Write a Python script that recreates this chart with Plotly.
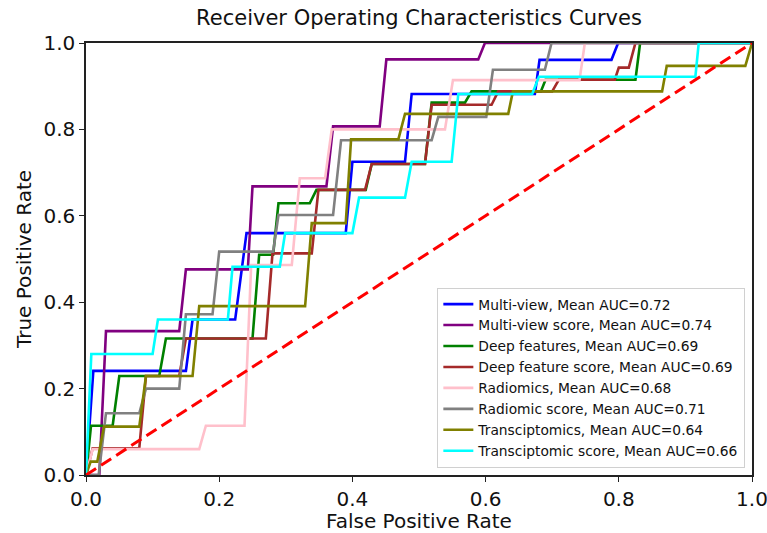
import plotly.graph_objects as go

# ---- data ----
labels = [
    "Multi-view, Mean AUC=0.72",
    "Multi-view score, Mean AUC=0.74",
    "Deep features, Mean AUC=0.69",
    "Deep feature score, Mean AUC=0.69",
    "Radiomics, Mean AUC=0.68",
    "Radiomic score, Mean AUC=0.71",
    "Transciptomics, Mean AUC=0.64",
    "Transciptomic score, Mean AUC=0.66",
]
colors = ["#0000ff", "#800080", "#008000", "#a52a2a", "#ffc0cb", "#808080", "#808000", "#00ffff"]

mv_fpr = [0, 0.011, 0.15, 0.16, 0.224, 0.241, 0.39, 0.40, 0.479, 0.489, 0.674, 0.681, 0.789, 0.799, 1.0]
mv_tpr = [0, 0.241, 0.241, 0.36, 0.36, 0.56, 0.56, 0.725, 0.725, 0.882, 0.882, 0.961, 0.961, 1.0, 1.0]

mvs_fpr = [0, 0.02, 0.03, 0.14, 0.15, 0.243, 0.25, 0.361, 0.371, 0.441, 0.451, 0.589, 0.599, 1.0]
mvs_tpr = [0, 0, 0.333, 0.333, 0.476, 0.476, 0.668, 0.668, 0.807, 0.807, 0.962, 0.962, 1.0, 1.0]

df_fpr = [0, 0.0075, 0.04, 0.05, 0.11, 0.12, 0.25, 0.26, 0.281, 0.289, 0.336, 0.346, 0.42, 0.429,
          0.509, 0.519, 0.569, 0.579, 0.683, 0.69, 0.825, 0.832, 1.0]
df_tpr = [0, 0.114, 0.114, 0.229, 0.229, 0.316, 0.316, 0.51, 0.51, 0.629, 0.629, 0.66, 0.66, 0.72,
          0.72, 0.862, 0.862, 0.888, 0.888, 0.915, 0.915, 1.0, 1.0]

dfs_fpr = [0, 0.01, 0.08, 0.09, 0.14, 0.15, 0.27, 0.28, 0.339, 0.349, 0.419, 0.429, 0.509, 0.519,
           0.609, 0.619, 0.70, 0.71, 0.794, 0.80, 0.815, 0.825, 1.0]
dfs_tpr = [0, 0.062, 0.062, 0.229, 0.229, 0.316, 0.316, 0.513, 0.513, 0.66, 0.66, 0.72, 0.72, 0.857,
           0.857, 0.888, 0.888, 0.915, 0.915, 0.943, 0.943, 1.0, 1.0]

rad_fpr = [0, 0.01, 0.17, 0.18, 0.238, 0.248, 0.309, 0.321, 0.359, 0.369, 0.539, 0.551, 0.741, 0.749, 1.0]
rad_tpr = [0, 0.06, 0.06, 0.114, 0.114, 0.486, 0.486, 0.687, 0.687, 0.80, 0.80, 0.914, 0.914, 1.0, 1.0]

rads_fpr = [0, 0.019, 0.03, 0.08, 0.09, 0.14, 0.15, 0.19, 0.20, 0.281, 0.289, 0.371, 0.383, 0.519,
            0.529, 0.601, 0.611, 0.689, 0.699, 1.0]
rads_tpr = [0, 0, 0.143, 0.143, 0.2, 0.2, 0.372, 0.372, 0.517, 0.517, 0.602, 0.602, 0.775, 0.775,
            0.829, 0.829, 0.938, 0.938, 1.0, 1.0]

tr_fpr = [0, 0.007, 0.017, 0.027, 0.08, 0.09, 0.16, 0.17, 0.329, 0.339, 0.39, 0.398, 0.469, 0.479,
          0.634, 0.641, 0.865, 0.872, 0.99, 1.0]
tr_tpr = [0, 0.031, 0.031, 0.112, 0.112, 0.229, 0.229, 0.391, 0.391, 0.583, 0.583, 0.777, 0.777, 0.836,
          0.836, 0.888, 0.888, 0.947, 0.947, 1.0]

trs_fpr = [0, 0.008, 0.10, 0.108, 0.213, 0.22, 0.291, 0.299, 0.40, 0.41, 0.479, 0.489, 0.549, 0.559,
           0.67, 0.68, 0.915, 0.92, 1.0]
trs_tpr = [0, 0.28, 0.28, 0.36, 0.36, 0.482, 0.482, 0.56, 0.56, 0.642, 0.642, 0.725, 0.725, 0.882,
           0.882, 0.922, 0.922, 1.0, 1.0]

series_fpr = [mv_fpr, mvs_fpr, df_fpr, dfs_fpr, rad_fpr, rads_fpr, tr_fpr, trs_fpr]
series_tpr = [mv_tpr, mvs_tpr, df_tpr, dfs_tpr, rad_tpr, rads_tpr, tr_tpr, trs_tpr]

chance_x = [0, 1]
chance_y = [0, 1]

tick_vals = [0, 0.2, 0.4, 0.6, 0.8, 1.0]
tick_text = ["0.0", "0.2", "0.4", "0.6", "0.8", "1.0"]

FONT = "DejaVu Sans"
TXT = "#111111"

fig = go.Figure()
for name, c, xs, ys in zip(labels, colors, series_fpr, series_tpr):
    fig.add_trace(go.Scatter(x=xs, y=ys, mode="lines", name=name,
                             line=dict(color=c, width=2.6)))
fig.add_trace(go.Scatter(x=chance_x, y=chance_y, mode="lines", showlegend=False,
                         line=dict(color="#ff0000", width=3, dash="12px,6px")))

axis_common = dict(range=[0, 1], tickvals=tick_vals, ticktext=tick_text,
                   showline=True, linecolor="#222222", linewidth=1.5, mirror=True,
                   ticks="outside", ticklen=5, tickwidth=1.3, tickcolor="#222222",
                   showgrid=False, zeroline=False, automargin=False,
                   ticklabeloverflow="allow",
                   tickfont=dict(family=FONT, size=20, color=TXT))

fig.update_layout(
    width=767, height=533,
    margin=dict(l=86, r=15, t=43, b=58),
    paper_bgcolor="white", plot_bgcolor="white",
    title=dict(text="Receiver Operating Characteristics Curves", x=0.5, xref="paper",
               y=1, yref="container", yanchor="top", pad=dict(t=10),
               font=dict(family=FONT, size=21, color=TXT)),
    xaxis=dict(axis_common, title=dict(text="False Positive Rate", standoff=2,
                                       font=dict(family=FONT, size=20, color=TXT))),
    yaxis=dict(axis_common, title=dict(text="True Positive Rate", standoff=6,
                                       font=dict(family=FONT, size=20, color=TXT))),
    legend=dict(x=0.99, y=0.017, xanchor="right", yanchor="bottom",
                bgcolor="rgba(255,255,255,0.9)", bordercolor="#d0d0d0", borderwidth=1,
                font=dict(family=FONT, size=13.8, color=TXT),
                tracegroupgap=0),
    showlegend=True,
)

fig.write_html("out.html", config={"displayModeBar": False},
               post_script="document.body.style.margin='0';")
